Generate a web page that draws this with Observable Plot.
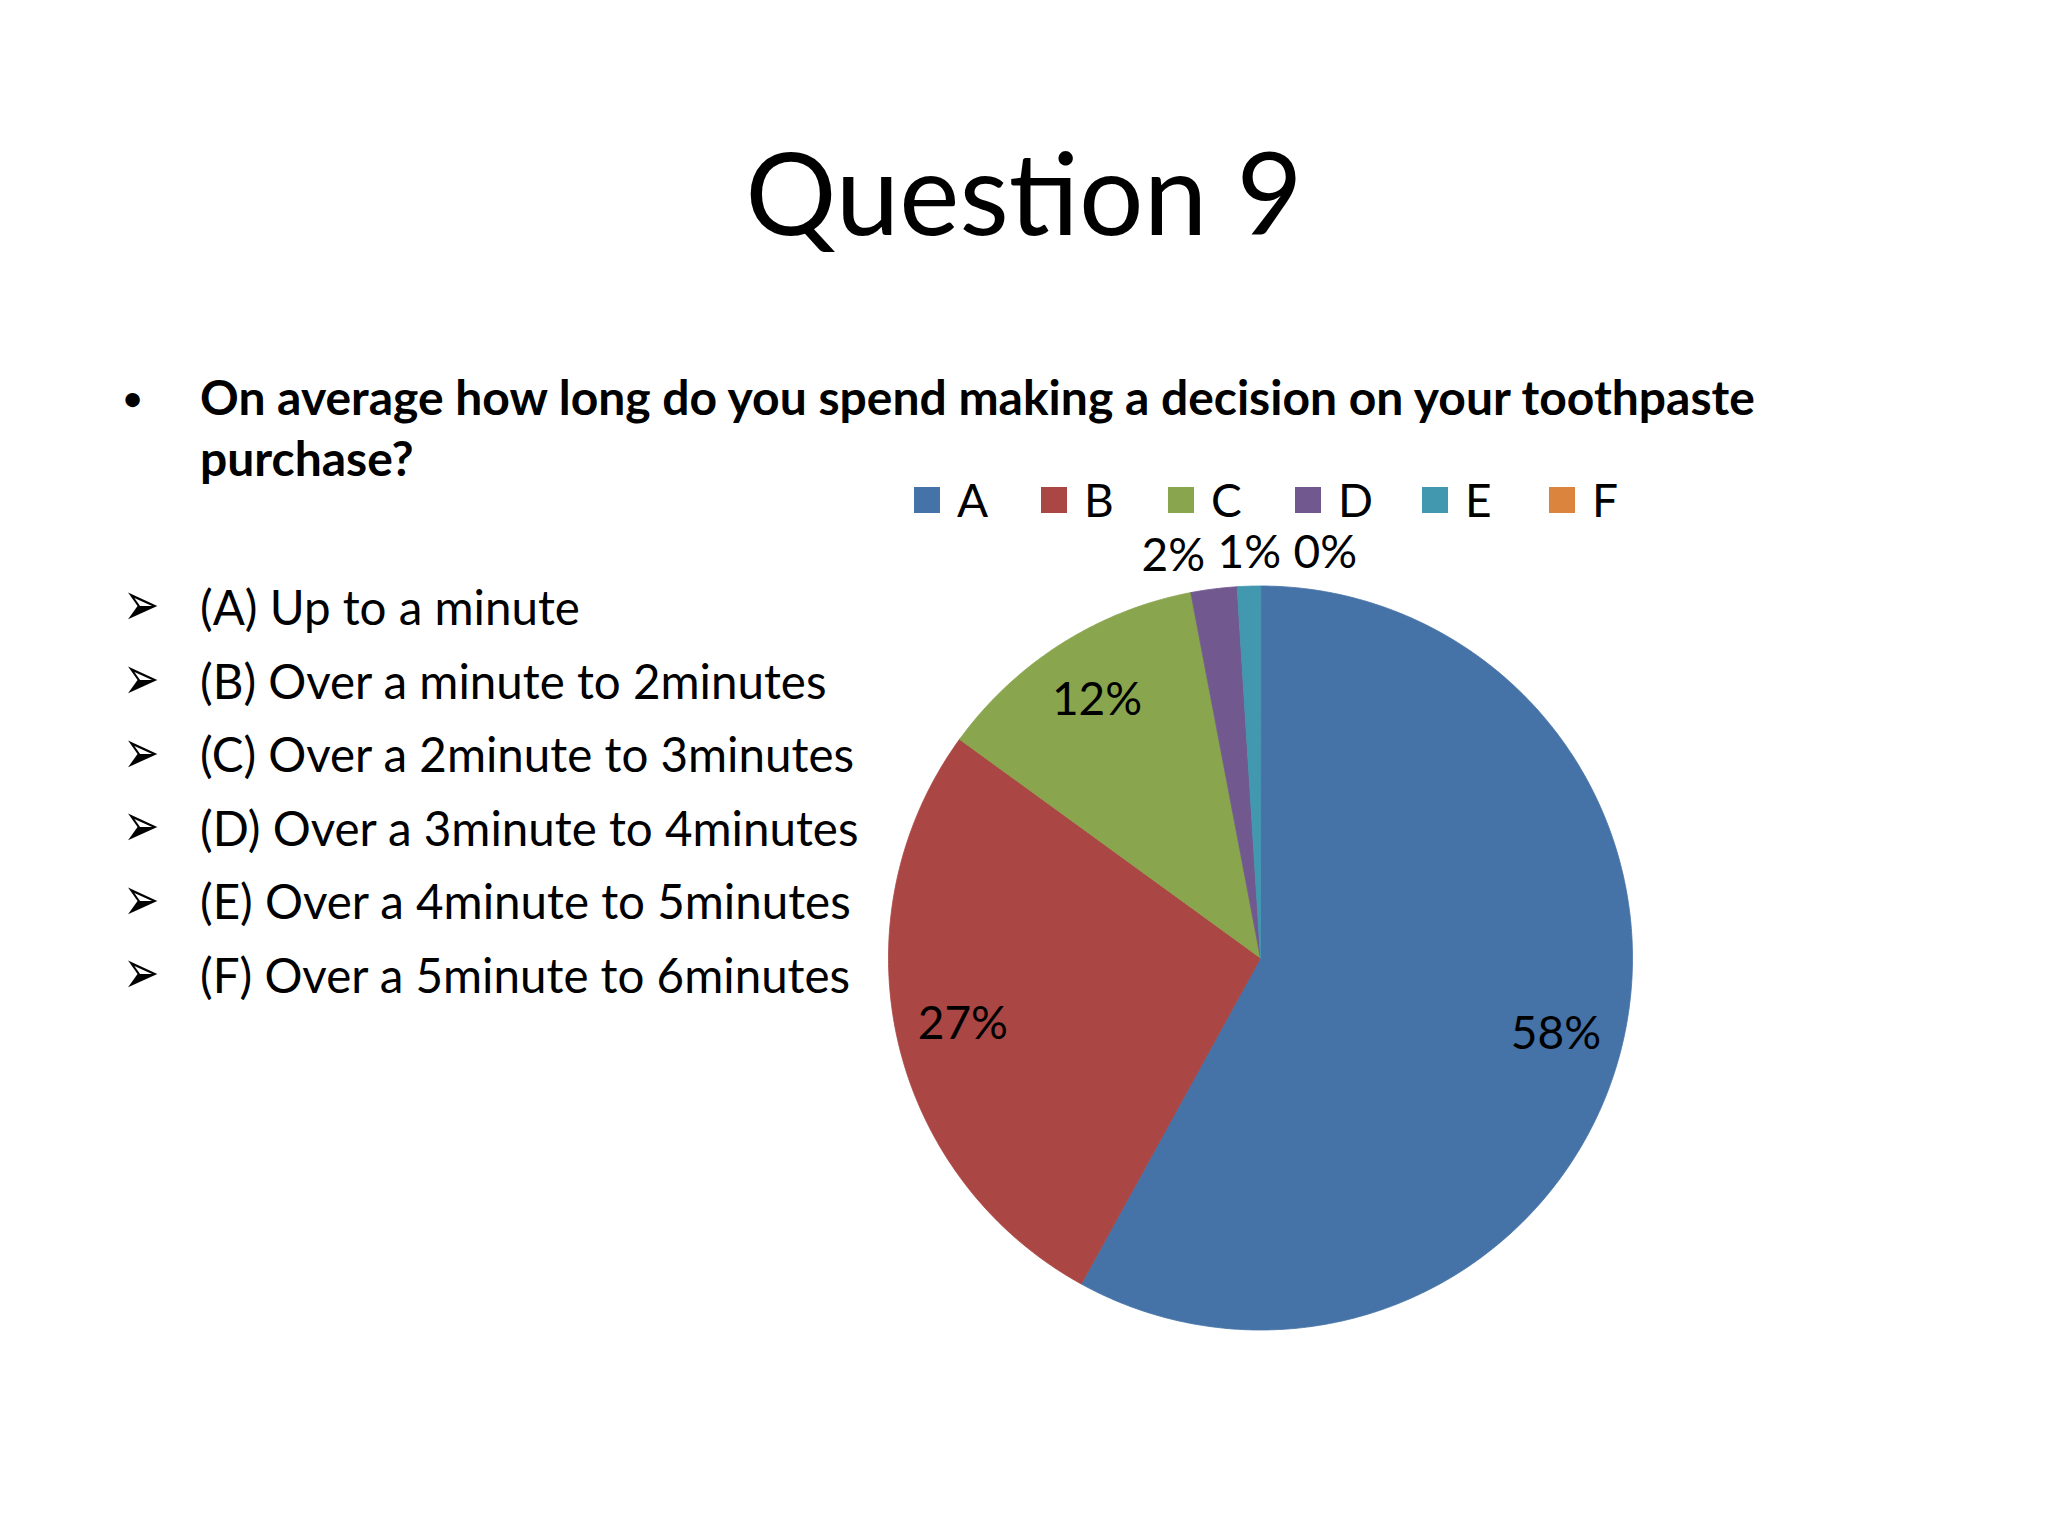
<!DOCTYPE html>
<html><head><meta charset="utf-8">
<script src="https://cdn.jsdelivr.net/npm/d3@7"></script>
<script src="https://cdn.jsdelivr.net/npm/@observablehq/plot@0.6"></script>
<style>
html,body{margin:0;padding:0;background:#fff;}
#slide{position:relative;width:2048px;height:1536px;overflow:hidden;font-family:Lato,"Open Sans",sans-serif;color:#000;}
.t{position:absolute;white-space:nowrap;line-height:1;}
#title{left:0;width:2048px;text-align:center;font-size:114px;top:134px;}
#q{left:200px;top:366px;font-size:48px;font-weight:700;line-height:61px;}
#bullet{left:123px;top:381px;font-size:33px;font-weight:700;}
.item{font-size:47.5px;left:200px;}
.arrow{font-family:"DejaVu Sans";font-size:32px;line-height:1;left:128px;transform:scale(1.35,1.9);transform-origin:50% 50%;}
#pie{position:absolute;left:860px;top:460px;}
#legend{position:absolute;left:914px;top:472px;}
.lg-swatches{font-family:Lato,sans-serif !important;font-size:46px !important;margin:0 !important;color:#000;}
.lg-swatch{margin-right:0 !important;width:127px;}
.lg-swatch > svg{margin-right:17px !important;}
</style>
</head><body>
<div id="slide"></div>
<script>
const categories = ["A", "B", "C", "D", "E", "F"];
const descriptions = ["Up to a minute", "Over a minute to 2minutes", "Over a 2minute to 3minutes", "Over a 3minute to 4minutes", "Over a 4minute to 5minutes", "Over a 5minute to 6minutes"];
const percents = [58, 27, 12, 2, 1, 0];
const colors = ["#4572A7", "#AA4643", "#89A54E", "#71588F", "#4198AF", "#DB843D"];
const titleText = "Question 9";
const questionLines = ["On average how long do you spend making a decision on your toothpaste", "purchase?"];

const slide = document.getElementById("slide");
function addDiv(id, cls, html, style) {
  const d = document.createElement("div");
  if (id) d.id = id;
  d.className = cls;
  d.innerHTML = html;
  if (style) Object.assign(d.style, style);
  slide.appendChild(d);
  return d;
}
addDiv("title", "t", titleText);
addDiv("bullet", "t", "•");
addDiv("q", "t", questionLines.join("<br>"));
categories.forEach((c, i) => {
  const base = 625 + 73.6 * i;
  addDiv(null, "t arrow", "➢", {top: (base - 36.6) + "px"});
  addDiv(null, "t item", `(${c}) ${descriptions[i]}`, {top: (base - 42.1) + "px"});
});

// legend
const legend = Plot.legend({
  color: {type: "ordinal", domain: categories, range: colors},
  legend: "swatches", swatchSize: 26, className: "lg"
});
const lgWrap = document.createElement("div");
lgWrap.id = "legend";
lgWrap.appendChild(legend);
slide.appendChild(lgWrap);

// pie geometry
const W = 820, H = 940, cx0 = 400, cy0 = 497.5, R = 372;
const total = d3.sum(percents);
const piePts = [];
const labels = [];
let acc = 0;
const outside = [];
const halfW = 30 / R;
categories.forEach((c, i) => {
  const v = percents[i];
  const a0 = acc / total * 2 * Math.PI;
  acc += v;
  const a1 = acc / total * 2 * Math.PI;
  const mid = ((a0 + a1) / 2) % (2 * Math.PI);
  if (v > 0) {
    piePts.push({cat: c, x: 0, y: 0});
    const n = Math.max(2, Math.ceil((a1 - a0) / (Math.PI / 360)));
    for (let k = 0; k <= n; k++) {
      const t = a0 + (a1 - a0) * k / n;
      piePts.push({cat: c, x: Math.sin(t), y: Math.cos(t)});
    }
  }
  if (v >= 5) {
    labels.push({text: v + "%", x: 0.82 * Math.sin(mid), y: 0.82 * Math.cos(mid)});
  } else {
    const rr = 1 + 33 / R;
    const s = Math.sin(mid);
    outside.push({text: v + "%", x: rr * s + (s >= -1e-9 ? halfW : 0), y: rr * Math.cos(mid)});
  }
});
// spread outside labels horizontally to avoid overlap
outside.sort((a, b) => a.x - b.x);
const gap = 76 / R;
for (let it = 0; it < 200; it++) {
  for (let k = 1; k < outside.length; k++) {
    const d = outside[k].x - outside[k - 1].x;
    if (d < gap) {
      const p = (gap - d) / 2;
      outside[k].x += p;
      outside[k - 1].x -= p;
    }
  }
}
labels.push(...outside);

const pie = Plot.plot({
  width: W, height: H, margin: 0,
  x: {domain: [-cx0 / R, (W - cx0) / R], range: [0, W], axis: null},
  y: {domain: [-(H - cy0) / R, cy0 / R], range: [H, 0], axis: null},
  color: {domain: categories, range: colors},
  style: {background: "transparent", overflow: "visible", fontFamily: "Lato, sans-serif"},
  marks: [
    Plot.line(piePts, {x: "x", y: "y", z: "cat", fill: "cat", stroke: "cat", strokeWidth: 0.8, curve: "linear-closed"}),
    Plot.text(labels, {x: "x", y: "y", text: "text", fontSize: 46, fill: "black", fontFamily: "Lato, sans-serif"})
  ]
});
const pieWrap = document.createElement("div");
pieWrap.id = "pie";
pieWrap.appendChild(pie);
slide.appendChild(pieWrap);
</script>
</body></html>
